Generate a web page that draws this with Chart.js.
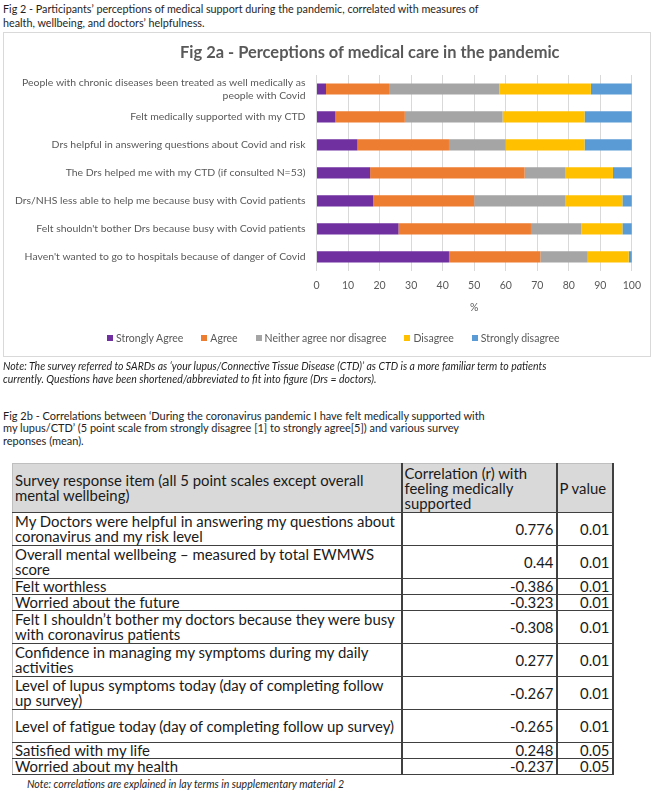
<!DOCTYPE html>
<html>
<head>
<meta charset="utf-8">
<script src="https://cdn.jsdelivr.net/npm/chart.js@4.4.1/dist/chart.umd.min.js"></script>
<style>
  html, body { margin: 0; padding: 0; background: #fff; }
  body { width: 660px; height: 792px; position: relative; overflow: hidden; font-family: Lato, sans-serif; color: #1e1e1e; }
  .line { position: absolute; white-space: nowrap; line-height: 14px; }
  #chart-box { position: absolute; left: 3px; top: 32px; width: 646px; height: 323px; border: 1px solid #d9d9d9; }
  #chart-title { position: absolute; white-space: nowrap; font-weight: bold; color: #595959; line-height: 18px; }
  #legend { position: absolute; left: 107px; top: 331px; }
  .legend-list { display: flex; gap: 18px; margin: 0; padding: 0; list-style: none; color: #595959; line-height: 14px; white-space: nowrap; }
  .legend-list span { display: inline-block; width: 6px; height: 6px; margin-right: 3px; vertical-align: 1px; }
  #corr-table { position: absolute; left: 12px; top: 463px; width: 600px; border-collapse: collapse; table-layout: fixed; }
  #corr-table td { padding: 0 2px; line-height: 15px; white-space: pre-line; vertical-align: middle;
    border-bottom: 1px solid #404040; border-right: 2px solid #404040; color: #1a1a1a; }
  #corr-table td:first-child { border-left: 1px solid #bfbfbf; }
  #corr-table thead td { background: #d9d9d9; border-top: 1px solid #bfbfbf; }
  #corr-table td.num { text-align: right; }
</style>
</head>
<body>

<div id="chart-box"><canvas id="perceptions"></canvas></div>
<div id="chart-title">Fig 2a - Perceptions of medical care in the pandemic</div>
<div id="legend"></div>
<table id="corr-table">
  <colgroup><col style="width:389px"><col style="width:155px"><col style="width:56px"></colgroup>
  <thead></thead>
  <tbody></tbody>
</table>

<script>
// Fig 2a data (percent of respondents)
const categories = [
  ["People with chronic diseases been treated as well medically as", "people with Covid"],
  "Felt medically supported with my CTD",
  "Drs helpful in answering questions about Covid and risk",
  "The Drs helped me with my CTD (if consulted N=53)",
  "Drs/NHS less able to help me because busy with Covid patients",
  "Felt shouldn't bother Drs because busy with Covid patients",
  "Haven't wanted to go to hospitals because of danger of Covid"
]
const stronglyAgree    = [3, 6, 13, 17, 18, 26, 42]
const agree            = [20, 22, 29, 49, 32, 42, 29]
const neither          = [35, 31, 18, 13, 29, 16, 15]
const disagree         = [29, 26, 25, 15, 18, 13, 13]
const stronglyDisagree = [13, 15, 15, 6, 3, 3, 1]
const seriesNames = ["Strongly Agree", "Agree", "Neither agree nor disagree", "Disagree", "Strongly disagree"]
const xTicks = [0, 10, 20, 30, 40, 50, 60, 70, 80, 90, 100]

// Fig 2b data
const tableHeader = [
  "Survey response item (all 5 point scales except overall\nmental wellbeing)",
  "Correlation (r) with\nfeeling medically\nsupported",
  "P value"
]
const surveyItems = [
  "My Doctors were helpful in answering my questions about\ncoronavirus and my risk level",
  "Overall mental wellbeing \u2013 measured by total EWMWS\nscore",
  "Felt worthless",
  "Worried about the future",
  "Felt I shouldn\u2019t bother my doctors because they were busy\nwith coronavirus patients",
  "Confidence in managing my symptoms during my daily\nactivities",
  "Level of lupus symptoms today (day of completing follow\nup survey)",
  "Level of fatigue today (day of completing follow up survey)",
  "Satisfied with my life",
  "Worried about my health"
]
const correlations = ["0.776", "0.44", "-0.386", "-0.323", "-0.308", "0.277", "-0.267", "-0.265", "0.248", "-0.237"]
const pValues = ["0.01", "0.01", "0.01", "0.01", "0.01", "0.01", "0.01", "0.01", "0.05", "0.05"]

const seriesColors = ["#7030A0", "#ED7D31", "#A5A5A5", "#FFC000", "#5B9BD5"]
const tallRows = [0, 1, 4, 5, 6, 7]

// pick a font size so that text spans the width seen in the figure
const measure = document.createElement("canvas").getContext("2d")
function fitSize(text, width, style) {
  measure.font = `${style || ""} 100px Lato`
  return 100 * width / measure.measureText(text).width
}

function placeLines(lines, x, firstCenter, step, width, style) {
  const size = fitSize(lines[0], width, style)
  lines.forEach((text, i) => {
    const el = document.createElement("div")
    el.className = "line"
    el.textContent = text
    el.style.left = x + "px"
    el.style.top = (firstCenter + i * step - 7) + "px"
    el.style.fontSize = size + "px"
    if (style && style.includes("italic")) el.style.fontStyle = "italic"
    document.body.appendChild(el)
  })
}

placeLines([
  "Fig 2 - Participants\u2019 perceptions of medical support during the pandemic, correlated with measures of",
  "health, wellbeing, and doctors\u2019 helpfulness."
], 3, 9, 14, 477)

placeLines([
  "Note: The survey referred to SARDs as \u2018your lupus/Connective Tissue Disease (CTD)\u2019 as CTD is a more familiar term to patients",
  "currently. Questions have been shortened/abbreviated to fit into figure (Drs = doctors)."
], 3, 366, 12.5, 545, "italic")

placeLines([
  "Fig 2b - Correlations between \u2018During the coronavirus pandemic I have felt medically supported with",
  "my lupus/CTD\u2019 (5 point scale from strongly disagree [1] to strongly agree[5]) and various survey",
  "reponses (mean)."
], 3, 416, 12.3, 483)

placeLines(["Note: correlations are explained in lay terms in supplementary material 2"], 27, 784, 12, 318, "italic")

const title = document.getElementById("chart-title")
title.style.fontSize = fitSize(title.textContent, 380, "bold") + "px"
title.style.left = "180px"
title.style.top = "43px"

// table
const table = document.getElementById("corr-table")
table.style.fontSize = fitSize(surveyItems[7], 381) + "px"

const head = document.createElement("tr")
head.style.height = "49px"
tableHeader.forEach(text => {
  const td = document.createElement("td")
  td.textContent = text
  head.appendChild(td)
})
table.tHead.appendChild(head)

surveyItems.forEach((item, i) => {
  const tr = document.createElement("tr")
  tr.style.height = tallRows.includes(i) ? "33px" : "16px"
  ;[item, correlations[i], pValues[i]].forEach((text, c) => {
    const td = document.createElement("td")
    td.textContent = text
    if (c > 0) td.className = "num"
    tr.appendChild(td)
  })
  table.tBodies[0].appendChild(tr)
})

// chart
const labelSize = fitSize(categories[4], 291)
const smallSize = fitSize("Strongly Agree", 68)
Chart.defaults.color = "#595959"
Chart.defaults.font.family = "Lato, sans-serif"

const seriesValues = [stronglyAgree, agree, neither, disagree, stronglyDisagree]

const chart = new Chart(document.getElementById("perceptions"), {
  type: "bar",
  data: {
    labels: categories,
    datasets: seriesNames.map((name, i) => ({
      label: name,
      data: seriesValues[i],
      backgroundColor: seriesColors[i],
      barPercentage: 0.4,
      categoryPercentage: 1
    }))
  },
  options: {
    indexAxis: "y",
    responsive: true,
    maintainAspectRatio: false,
    animation: false,
    layout: { padding: { top: 42, left: 0, right: 15, bottom: 42 } },
    plugins: {
      legend: { display: false },
      tooltip: { enabled: false }
    },
    scales: {
      x: {
        stacked: true,
        min: 0,
        max: 100,
        afterBuildTicks: axis => { axis.ticks = xTicks.map(v => ({ value: v })) },
        grid: { color: "#d9d9d9", drawTicks: false },
        border: { display: false },
        ticks: { padding: 9, font: { size: smallSize } },
        title: { display: true, text: "%", padding: { top: 0, bottom: 0 }, font: { size: smallSize } }
      },
      y: {
        stacked: true,
        grid: { display: false, drawTicks: false },
        border: { display: false },
        ticks: { padding: 11, autoSkip: false, font: { size: labelSize } }
      }
    }
  }
})

// legend as html list, built from the chart datasets
const legendItems = chart.data.datasets.map(ds =>
  `<li><span style="background-color:${ds.backgroundColor}"></span>${ds.label}</li>`)
const legend = document.getElementById("legend")
legend.innerHTML = `<ul class="legend-list">${legendItems.join("")}</ul>`
legend.style.fontSize = smallSize + "px"
</script>
</body>
</html>
